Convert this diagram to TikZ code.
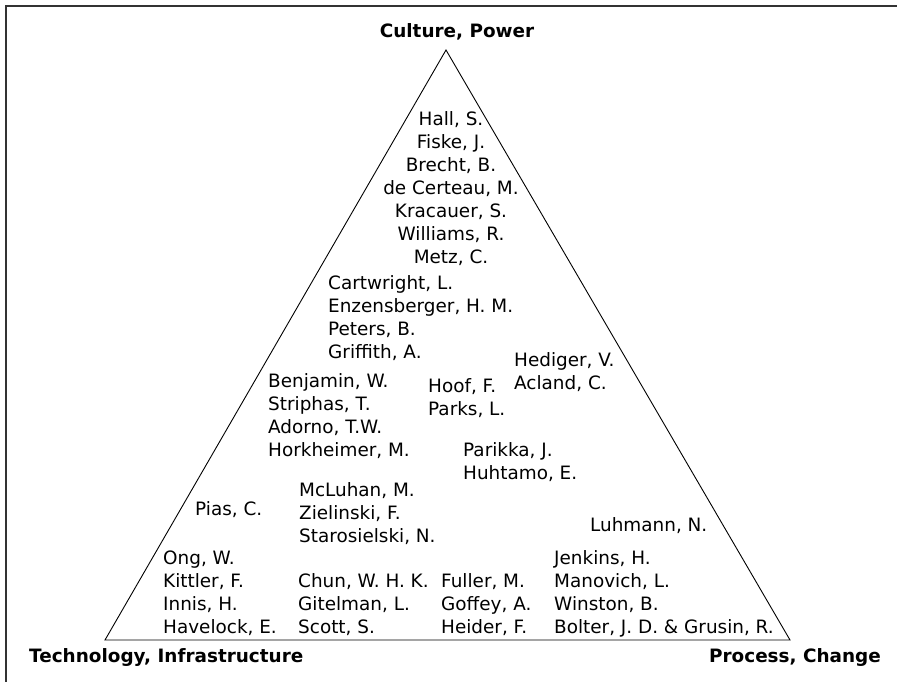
\documentclass[tikz,border=0pt]{standalone}
\usepackage{fontspec}
\setmainfont{DejaVu Sans}
\usetikzlibrary{positioning}
\tikzset{
  tri/name/.style={align=left, anchor=west, inner sep=0pt, font=\fontsize{18.4}{23}\selectfont},
  tri/column/.style={tri/name, align=center, anchor=center},
  tri/corner/.style={inner sep=0pt, font=\fontsize{18.4}{22}\selectfont\bfseries},
  tri/edge/.style={line width=0.9pt, line join=miter},
  tri/frame/.style={line width=1.4pt, black!80}
}

\begin{document}
\begin{tikzpicture}[x=1pt, y=-1pt]
  \useasboundingbox (0,0) rectangle (897,682);
  \draw[tri/frame] (6,682) -- (6,6) -- (897,6);

  % the triangle and its corners
  \coordinate (apex) at (446,50);
  \coordinate (tech) at (105,640);
  \coordinate (proc) at (790,640);
  \draw[tri/edge] (tech) -- (apex) -- (proc) -- cycle;

  \node[tri/corner] (culture) at (457,32) {Culture, Power};
  \node[tri/corner, anchor=west] (techlbl) at (29,657) {Technology, Infrastructure};
  \node[tri/corner, anchor=east] (proclbl) at (881,657) {Process, Change};

  % names
  \node[tri/column] (hall) at (451,189) {Hall, S.\\Fiske, J.\\Brecht, B.\\de Certeau, M.\\Kracauer, S.\\Williams, R.\\Metz, C.};
  \node[tri/name] (cartwright) at (328,318.5) {Cartwright, L.\\Enzensberger, H. M.\\Peters, B.\\Griffith, A.};
  \node[tri/name] (hediger) at (514,372.5) {Hediger, V.\\Acland, C.};
  \node[tri/name] (benjamin) at (268,416) {Benjamin, W.\\Striphas, T.\\Adorno, T.W.\\Horkheimer, M.};
  \node[tri/name] (hoof) at (428,398.5) {Hoof, F.\\Parks, L.};
  \node[tri/name] (parikka) at (463,462) {Parikka, J.\\Huhtamo, E.};
  \node[tri/name] (mcluhan) at (299,514) {McLuhan, M.\\Zielinski, F.\\Starosielski, N.};
  \node[tri/name] (pias) at (195,510) {Pias, C.};
  \node[tri/name] (luhmann) at (590,526) {Luhmann, N.};
  \node[tri/name] (ong) at (163,593.5) {Ong, W.\\Kittler, F.\\Innis, H.\\Havelock, E.};
  \node[tri/name] (chun) at (298,605) {Chun, W. H. K.\\Gitelman, L.\\Scott, S.};
  \node[tri/name] (fuller) at (441,605) {Fuller, M.\\Goffey, A.\\Heider, F.};
  \node[tri/name] (jenkins) at (554,593.5) {Jenkins, H.\\Manovich, L.\\Winston, B.\\Bolter, J. D. \& Grusin, R.};
\end{tikzpicture}
\end{document}
